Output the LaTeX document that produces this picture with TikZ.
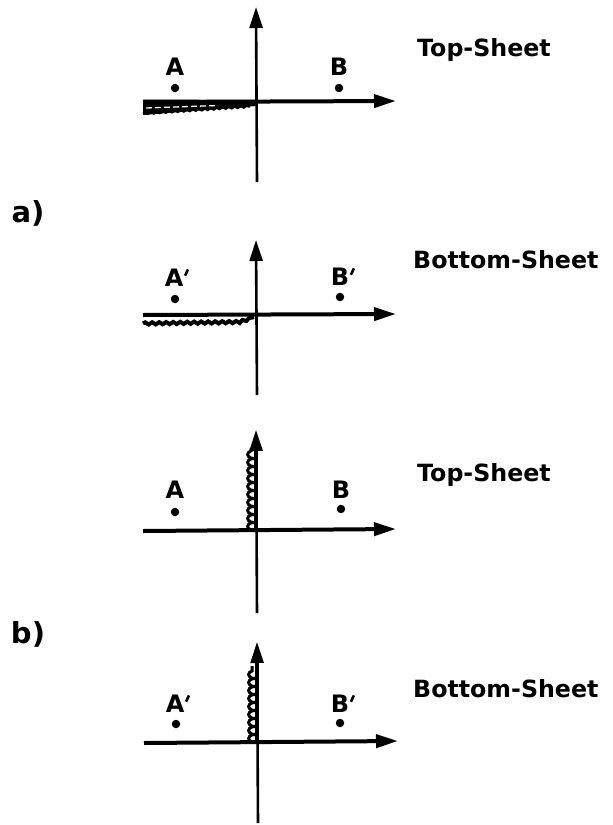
\documentclass[tikz,border=0pt]{standalone}
\usepackage{fontspec}
\setmainfont{DejaVu Sans}
\usetikzlibrary{arrows.meta,decorations.pathmorphing}
\tikzset{
  haxis/.style={line width=4pt, -{Triangle[length=22pt,width=13pt]}},
  vaxis/.style={line width=2.6pt, -{Triangle[length=21pt,width=13pt]}},
  ptlabel/.style={font=\bfseries\fontsize{24}{28}\selectfont, inner sep=0pt, anchor=base},
  sheet/.style={font=\bfseries\fontsize{23.7}{28}\selectfont, inner sep=0pt, anchor=base west},
  part/.style={font=\bfseries\fontsize{29}{34}\selectfont, inner sep=0pt, anchor=center},
  dotpt/.style={circle, fill=black, inner sep=0pt, minimum size=8.5pt},
  hwave/.style={line width=4pt, decorate, decoration={snake, amplitude=1.1pt, segment length=7pt}},
  vwave/.style={line width=3pt, decorate, decoration={coil, aspect=0.45, amplitude=3.4pt, segment length=8pt}},
}
\newcommand{\primemark}{\kern0.5pt\raisebox{0.45em}{\rotatebox{-25}{\rule{2.6pt}{7pt}}}}
\begin{document}
\begin{tikzpicture}[x=1pt,y=-1pt]
\useasboundingbox (0,0) rectangle (613,825);

% ---------- part labels ----------
\node[part] (pa) at (28,213) {a)};
\node[part] (pb) at (28,634) {b)};

% ================= panel 1 : a) Top-Sheet =================
\coordinate (l1) at (143,102);
\coordinate (r1) at (396,101);
\coordinate (t1) at (256,7);
\coordinate (b1) at (257,182);
\fill (143,99.5) -- (256,100) -- (256,106) -- (143,115) -- cycle;
\draw[white, line width=1.3pt, dash pattern=on 6pt off 3pt] (146,108) -- (218,105.5);
\draw[line width=2pt, decorate, decoration={snake, amplitude=0.9pt, segment length=6pt}] (143,113.5) -- (250,106.5);
\draw[haxis] (l1) -- (r1);
\draw[vaxis] (b1) -- (t1);
\node[dotpt] (dA1) at (175,88) {};
\node[dotpt] (dB1) at (339,88) {};
\node[ptlabel] (A1) at (175,75) {A};
\node[ptlabel] (B1) at (339,75) {B};
\node[sheet] (s1) at (417,56) {Top-Sheet};

% ================= panel 2 : a) Bottom-Sheet =================
\coordinate (l2) at (143,315);
\coordinate (r2) at (396,314);
\coordinate (t2) at (256,240);
\coordinate (b2) at (257,395);
\draw[haxis] (l2) -- (r2);
\draw[hwave] (143,323.5) -- (238,322) -- (254,317);
\draw[vaxis] (b2) -- (t2);
\node[dotpt] (dA2) at (175,299) {};
\node[dotpt] (dB2) at (340,297) {};
\node[ptlabel] (A2) at (177,286) {A\primemark};
\node[ptlabel] (B2) at (343,285) {B\primemark};
\node[sheet] (s2) at (413,268) {Bottom-Sheet};

% ================= panel 3 : b) Top-Sheet =================
\coordinate (l3) at (143,531);
\coordinate (r3) at (396,529);
\coordinate (t3) at (256,430);
\coordinate (b3) at (257,613);
\draw[haxis] (l3) -- (r3);
\draw[vaxis] (b3) -- (t3);
\draw[line width=3.5pt] (256,530) -- (256,450);
\draw[vwave] (251,530) -- (251,448);
\node[dotpt] (dA3) at (175,512) {};
\node[dotpt] (dB3) at (341,509) {};
\node[ptlabel] (A3) at (175,498) {A};
\node[ptlabel] (B3) at (341,498) {B};
\node[sheet] (s3) at (417,481) {Top-Sheet};

% ================= panel 4 : b) Bottom-Sheet =================
\coordinate (l4) at (144,743);
\coordinate (r4) at (398,741);
\coordinate (t4) at (257,642);
\coordinate (b4) at (258,823);
\draw[haxis] (l4) -- (r4);
\draw[vaxis] (b4) -- (t4);
\draw[line width=3.5pt] (257,742) -- (257,662);
\draw[vwave] (252,742) -- (252,666);
\node[dotpt] (dA4) at (176,724) {};
\node[dotpt] (dB4) at (340,723) {};
\node[ptlabel] (A4) at (178,712) {A\primemark};
\node[ptlabel] (B4) at (343,712) {B\primemark};
\node[sheet] (s4) at (413,697) {Bottom-Sheet};
\end{tikzpicture}
\end{document}
